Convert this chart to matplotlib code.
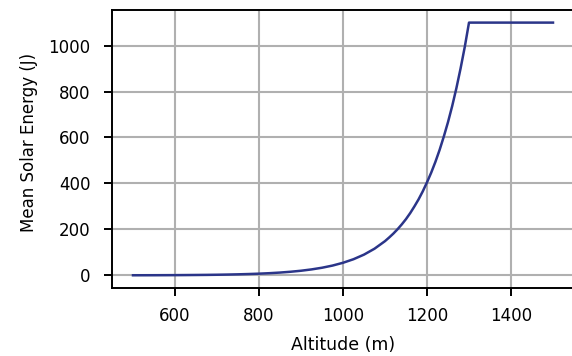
import matplotlib
matplotlib.use("Agg")
import matplotlib.pyplot as plt

# altitude (m) and mean solar energy (J)
altitude = [500, 525, 550, 575, 600, 625, 650, 675, 700, 725, 750, 775, 800,
            825, 850, 875, 900, 925, 950, 975, 1000, 1025, 1050, 1075, 1100,
            1110, 1120, 1130, 1140, 1150, 1160, 1170, 1180, 1190, 1200,
            1210, 1220, 1230, 1240, 1250, 1260, 1270, 1280, 1290, 1300, 1500]
energy = [0.4, 0.5, 0.6, 0.8, 1.0, 1.3, 1.7, 2.1, 2.7, 3.5, 4.5, 5.8, 7.4,
          9.5, 12.2, 15.7, 20.1, 25.9, 33.2, 42.6, 54.8, 70.3, 90.3, 116, 149,
          165, 182, 201, 222, 245, 271, 300, 331, 366, 405,
          447, 494, 546, 604, 667, 737, 815, 901, 995, 1100, 1100]
x_ticks = [600, 800, 1000, 1200, 1400]
y_ticks = [0, 200, 400, 600, 800, 1000]

fig = plt.figure(figsize=(5.72, 3.56), dpi=100)
ax = fig.add_axes([0.1958, 0.191, 0.8077, 0.781])

ax.plot(altitude, energy, color="#2b3589", linewidth=1.8, zorder=3)

ax.set_xticks(x_ticks)
ax.set_yticks(y_ticks)
ax.set_xlim(450, 1550)
ax.set_ylim(-55, 1155)
ax.grid(True, color="#b0b0b0", linewidth=1.5)
ax.set_axisbelow(True)
ax.tick_params(labelsize=12, length=6, width=1.4)
ax.tick_params(axis="x", pad=7.5)
ax.tick_params(axis="y", pad=9.5)
for s in ax.spines.values():
    s.set_linewidth(1.4)

ax.set_xlabel("Altitude (m)", fontsize=12.5, labelpad=8)
ax.set_ylabel("Mean Solar Energy (J)", fontsize=12)
ax.yaxis.set_label_coords(-0.160, 0.522)

fig.savefig("out.png", dpi=100)
